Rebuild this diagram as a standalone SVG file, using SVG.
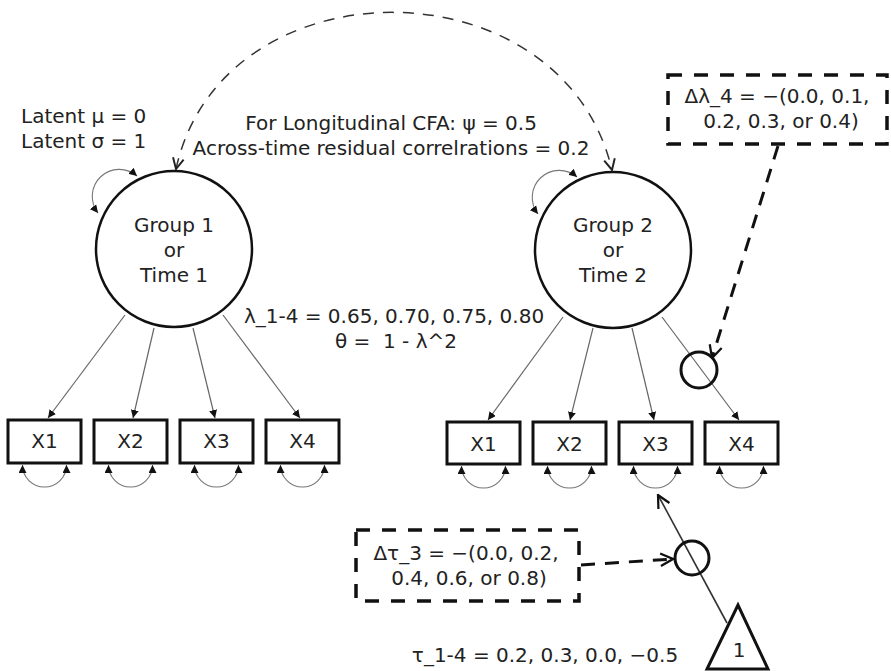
<svg xmlns="http://www.w3.org/2000/svg" width="891" height="671" viewBox="0 0 891 671">
<style>
  text { font-family: "DejaVu Sans", "Liberation Sans", sans-serif; font-size: 20px; fill: #222; white-space: pre; }
  .mid { text-anchor: middle; }
  .latent { fill: none; stroke: #111; stroke-width: 2.5; }
  .obs { fill: #fff; stroke: #111; stroke-width: 3; }
  .load { fill: none; stroke: #666; stroke-width: 1.2; marker-end: url(#mFill); }
  .loop { fill: none; stroke: #777; stroke-width: 1.1; marker-start: url(#mFill); marker-end: url(#mFill); }
  .cov { fill: none; stroke: #333; stroke-width: 1.5; stroke-dasharray: 11 9; marker-start: url(#mOpen); marker-end: url(#mOpen); }
  .dashbox { fill: none; stroke: #111; stroke-width: 3.5; stroke-dasharray: 14 12; }
  .dasharrow { fill: none; stroke: #111; stroke-width: 3; stroke-dasharray: 14 10; marker-end: url(#mOpenBig); }
  .solid { fill: none; stroke: #333; stroke-width: 1.6; marker-end: url(#mOpenBig); }
  .small { fill: none; stroke: #111; stroke-width: 3; }
</style>
<defs>
  <marker id="mFill" viewBox="0 0 10 10" refX="10" refY="5" markerWidth="8" markerHeight="8" markerUnits="userSpaceOnUse" orient="auto-start-reverse">
    <path d="M0,0 L10,5 L0,10 z" fill="#111"/>
  </marker>
  <marker id="mOpen" viewBox="0 0 12 12" refX="11" refY="6" markerWidth="13" markerHeight="13" markerUnits="userSpaceOnUse" orient="auto-start-reverse">
    <path d="M1,1 L11,6 L1,11" fill="none" stroke="#222" stroke-width="1.8"/>
  </marker>
  <marker id="mOpenBig" viewBox="0 0 12 12" refX="11" refY="6" markerWidth="15" markerHeight="15" markerUnits="userSpaceOnUse" orient="auto">
    <path d="M1,1 L11,6 L1,11" fill="none" stroke="#111" stroke-width="1.8"/>
  </marker>
</defs>
<rect width="891" height="671" fill="#fff"/>

<g id="connectors">
  <path class="cov" d="M176,169 C222,-40 562,-40 612,170"/>
  <path class="loop" d="M137,176 A27,27 0 0 0 98,213"/>
  <path class="loop" d="M577,177 A27,27 0 0 0 538,214"/>
  <line class="load" x1="125" y1="315" x2="48" y2="418"/>
  <line class="load" x1="154" y1="328" x2="133" y2="418"/>
  <line class="load" x1="193" y1="328" x2="215" y2="418"/>
  <line class="load" x1="223" y1="315" x2="300" y2="418"/>
  <line class="load" x1="563" y1="317" x2="488" y2="420"/>
  <line class="load" x1="593" y1="328" x2="570" y2="420"/>
  <line class="load" x1="632" y1="328" x2="654" y2="420"/>
  <line class="load" x1="662" y1="317" x2="739" y2="420"/>
  <path class="loop" d="M22.5,465 A22,22 0 0 0 66.5,465"/>
  <path class="loop" d="M108.5,465 A22,22 0 0 0 152.5,465"/>
  <path class="loop" d="M194.5,465 A22,22 0 0 0 238.5,465"/>
  <path class="loop" d="M280.5,465 A22,22 0 0 0 324.5,465"/>
  <path class="loop" d="M461.5,466 A22,22 0 0 0 505.5,466"/>
  <path class="loop" d="M547.5,466 A22,22 0 0 0 591.5,466"/>
  <path class="loop" d="M633.5,466 A22,22 0 0 0 677.5,466"/>
  <path class="loop" d="M719.5,466 A22,22 0 0 0 763.5,466"/>
  <line class="dasharrow" x1="778" y1="146" x2="712" y2="358"/>
  <line class="dasharrow" x1="581" y1="565" x2="673" y2="559"/>
  <line class="solid" x1="727" y1="623" x2="658" y2="495"/>
</g>

<g id="latent1">
  <circle class="latent" cx="174" cy="249" r="78"/>
  <text class="mid" x="174" y="232">Group 1</text>
  <text class="mid" x="174" y="257">or</text>
  <text class="mid" x="174" y="282">Time 1</text>
</g>
<g id="latent2">
  <circle class="latent" cx="613" cy="250" r="78"/>
  <text class="mid" x="613" y="232">Group 2</text>
  <text class="mid" x="613" y="257">or</text>
  <text class="mid" x="613" y="282">Time 2</text>
</g>

<g id="g1x1"><rect class="obs" x="8" y="420" width="73" height="43"/><text class="mid" x="44.5" y="448">X1</text></g>
<g id="g1x2"><rect class="obs" x="94" y="420" width="73" height="43"/><text class="mid" x="130.5" y="448">X2</text></g>
<g id="g1x3"><rect class="obs" x="180" y="420" width="73" height="43"/><text class="mid" x="216.5" y="448">X3</text></g>
<g id="g1x4"><rect class="obs" x="266" y="420" width="73" height="43"/><text class="mid" x="302.5" y="448">X4</text></g>
<g id="g2x1"><rect class="obs" x="447" y="422" width="73" height="42"/><text class="mid" x="483.5" y="451">X1</text></g>
<g id="g2x2"><rect class="obs" x="533" y="422" width="73" height="42"/><text class="mid" x="569.5" y="451">X2</text></g>
<g id="g2x3"><rect class="obs" x="619" y="422" width="73" height="42"/><text class="mid" x="655.5" y="451">X3</text></g>
<g id="g2x4"><rect class="obs" x="705" y="422" width="73" height="42"/><text class="mid" x="741.5" y="451">X4</text></g>

<g id="lambdaShift">
  <circle class="small" cx="699" cy="370" r="18"/>
</g>
<g id="tauShift">
  <circle class="small" cx="692" cy="558" r="17" fill="#fff"/>
</g>
<g id="intercept">
  <polygon points="738,605 707,669 768,669" fill="#fff" stroke="#111" stroke-width="3" stroke-linejoin="miter"/>
  <text class="mid" x="739" y="657">1</text>
</g>

<g id="deltaLambdaBox">
  <rect class="dashbox" x="668" y="75" width="219" height="69"/>
  <text class="mid" x="777" y="103">Δλ_4 = −(0.0, 0.1,</text>
  <text class="mid" x="781" y="128">0.2, 0.3, or 0.4)</text>
</g>
<g id="deltaTauBox">
  <rect class="dashbox" x="356" y="530" width="223" height="71"/>
  <text class="mid" x="466" y="560">Δτ_3 = −(0.0, 0.2,</text>
  <text class="mid" x="469" y="585">0.4, 0.6, or 0.8)</text>
</g>

<g id="labels">
  <text x="21" y="123">Latent μ = 0</text>
  <text x="21" y="148">Latent σ = 1</text>
  <text class="mid" x="391" y="130">For Longitudinal CFA: ψ = 0.5</text>
  <text class="mid" x="391" y="155">Across-time residual correlrations = 0.2</text>
  <text class="mid" x="394" y="323">λ_1-4 = 0.65, 0.70, 0.75, 0.80</text>
  <text class="mid" x="396" y="348">θ =  1 - λ^2</text>
  <text class="mid" x="545" y="662">τ_1-4 = 0.2, 0.3, 0.0, −0.5</text>
</g>
</svg>
